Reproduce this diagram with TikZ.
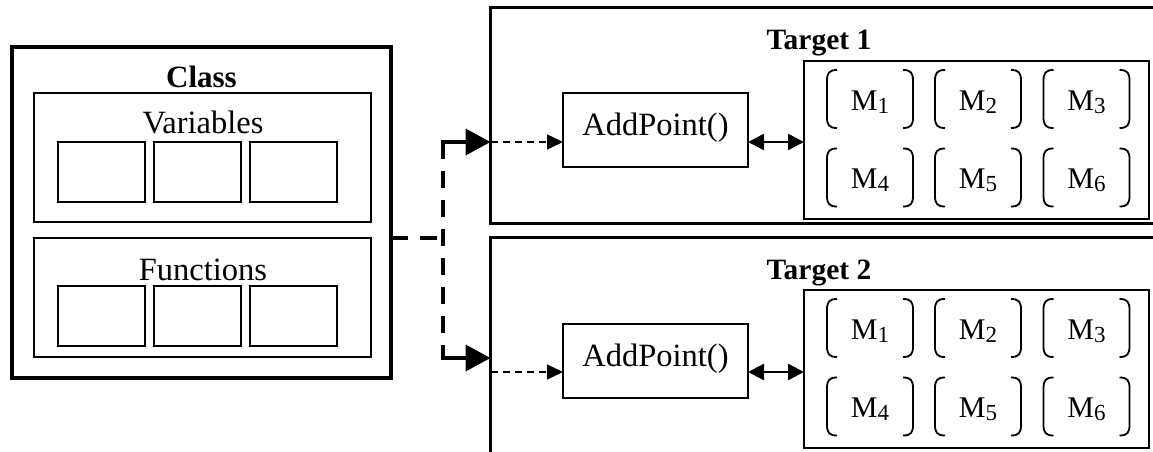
\documentclass[tikz,border=0pt]{standalone}
\usepackage{fontspec}
\setmainfont{Liberation Serif}
\usetikzlibrary{arrows.meta}

% one matrix entry: a pair of tall round brackets round a label
\newcommand{\matcell}[4]{%
  \draw[brk] ({#1-33},{#2-29}) .. controls ({#1-41},{#2-29}) and ({#1-43},{#2-26}) .. ({#1-43},{#2-18})
     -- ({#1-43},{#2+18}) .. controls ({#1-43},{#2+26}) and ({#1-41},{#2+29}) .. ({#1-33},{#2+29});
  \draw[brk] ({#1+33},{#2-29}) .. controls ({#1+41},{#2-29}) and ({#1+43},{#2-26}) .. ({#1+43},{#2-18})
     -- ({#1+43},{#2+18}) .. controls ({#1+43},{#2+26}) and ({#1+41},{#2+29}) .. ({#1+33},{#2+29});
  \node[mlbl, anchor=base] (#4) at (#1,{#2+11}) {M\raisebox{-3pt}{\fontsize{23}{26}\selectfont #3}};
}

\begin{document}
\begin{tikzpicture}[x=1pt,y=-1pt,
  lbl/.style={font=\fontsize{32.5}{38}\selectfont, inner sep=0pt},
  mlbl/.style={font=\fontsize{30}{36}\selectfont, inner sep=0pt},
  ttl/.style={font=\fontsize{31}{36}\selectfont\bfseries, inner sep=0pt},
  ttlb/.style={font=\fontsize{29.5}{36}\selectfont\bfseries, inner sep=0pt},
  frame/.style={draw, inner sep=0pt, outer sep=0pt},
  slot/.style={frame, line width=2pt, minimum width=87pt, minimum height=60pt},
  brk/.style={line width=1.8pt},
  feed/.style={line width=4pt, dash pattern=on 17pt off 12pt},
  feedtip/.style={line width=4pt, -{Triangle[length=25pt,width=26pt]}},
  call/.style={line width=1.5pt, dash pattern=on 7pt off 5pt, -{Triangle[length=16pt,width=15pt]}},
  link/.style={line width=2.5pt, {Triangle[length=16pt,width=16pt]}-{Triangle[length=16pt,width=16pt]}}]

\useasboundingbox (0,0) rectangle (1153,452);
\clip (0,0) rectangle (1153,452);

% ---- class with its variables and functions
\node[frame, line width=4pt, minimum width=379pt, minimum height=331pt] (class) at (201.5,212.5) {};
\node[ttl, anchor=base] (classT) at (201.5,88) {Class};

\node[frame, line width=2pt, minimum width=337pt, minimum height=129pt] (vars) at (202.5,157.5) {};
\node[lbl, anchor=base] (varsT) at (203,133) {Variables};
\node[slot] (v1) at (101.5,172) {};
\node[slot] (v2) at (197.5,172) {};
\node[slot] (v3) at (293.5,172) {};

\node[frame, line width=2pt, minimum width=337pt, minimum height=119pt] (funcs) at (202.5,297.5) {};
\node[lbl, anchor=base] (funcsT) at (203,280) {Functions};
\node[slot] (f1) at (101.5,315.5) {};
\node[slot] (f2) at (197.5,315.5) {};
\node[slot] (f3) at (293.5,315.5) {};

% ---- two targets, running off the right edge
\node[frame, line width=3pt, minimum width=710pt, minimum height=215pt] (t1) at (845.5,115.5) {};
\node[ttlb, anchor=base] (t1T) at (819,50) {Target 1};
\node[frame, line width=3pt, minimum width=710pt, minimum height=243pt] (t2) at (845.5,358.5) {};
\node[ttlb, anchor=base] (t2T) at (819,279) {Target 2};

\node[frame, line width=2pt, minimum width=185pt, minimum height=74pt] (ap1) at (655.5,130) {};
\node[lbl, anchor=base] (ap1T) at (655.5,135) {AddPoint()};
\node[frame, line width=2pt, minimum width=185pt, minimum height=74pt] (ap2) at (655.5,361) {};
\node[lbl, anchor=base] (ap2T) at (655.5,366) {AddPoint()};

\node[frame, line width=1.8pt, minimum width=345pt, minimum height=158pt] (m1) at (976.5,140) {};
\node[frame, line width=1.8pt, minimum width=345pt, minimum height=158pt] (m2) at (976.5,369) {};

\matcell{870}{99}{1}{a1}
\matcell{978}{99}{2}{a2}
\matcell{1086.5}{99}{3}{a3}
\matcell{870}{177.5}{4}{a4}
\matcell{978}{177.5}{5}{a5}
\matcell{1086.5}{177.5}{6}{a6}

\matcell{870}{328}{1}{b1}
\matcell{978}{328}{2}{b2}
\matcell{1086.5}{328}{3}{b3}
\matcell{870}{406.5}{4}{b4}
\matcell{978}{406.5}{5}{b5}
\matcell{1086.5}{406.5}{6}{b6}

% ---- connectors
\coordinate (split) at (443,238);
\coordinate (up) at (443,142);
\coordinate (dn) at (443,358);

\draw[feed] (split -| class.east) -- (split);
\draw[feed] (up) -- (dn);
\draw[feedtip] ([xshift=-2pt]up) -- (up -| t1.west);
\draw[feedtip] ([xshift=-2pt]dn) -- (dn -| t2.west);

\draw[call] (up -| t1.west) -- ([yshift=-12pt]ap1.west);
\draw[call] ([yshift=-11pt]ap2.west -| t2.west) -- ([yshift=-11pt]ap2.west);

\draw[link] ([yshift=-12pt]ap1.east) -- ([yshift=-2pt]m1.west);
\draw[link] ([yshift=-11pt]ap2.east) -- ([yshift=-3pt]m2.west);
\end{tikzpicture}
\end{document}
